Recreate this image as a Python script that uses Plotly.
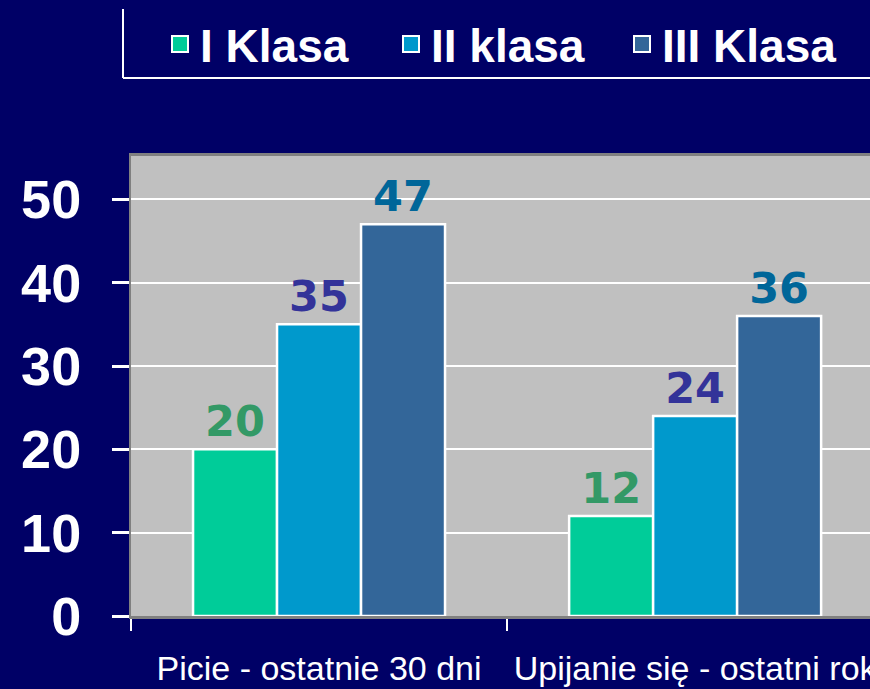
import plotly.graph_objects as go

categories = ["Picie - ostatnie 30 dni", "Upijanie się - ostatni rok"]
series_names = ["I Klasa", "II klasa", "III Klasa"]
klasa1 = [20, 12]
klasa2 = [35, 24]
klasa3 = [47, 36]
y_ticks = [0, 10, 20, 30, 40, 50]

bar_colors = ["#00CC99", "#0099CC", "#336699"]
label_colors = ["#339966", "#333399", "#006699"]

NAVY = "#000066"
fig = go.Figure()
for name, vals, col, lcol in zip(series_names, [klasa1, klasa2, klasa3], bar_colors, label_colors):
    fig.add_trace(go.Bar(
        x=categories, y=vals, name=name, showlegend=False,
        marker=dict(color=col, line=dict(color="white", width=2.5)),
        text=[str(v) for v in vals], textposition="outside", cliponaxis=False,
        textfont=dict(family="DejaVu Sans", size=43, color=lcol, weight="bold"),
        constraintext="none",
    ))
    # legend entry
    fig.add_trace(go.Scatter(
        x=[None], y=[None], mode="markers", name=name,
        marker=dict(symbol="square", size=16, color=col, line=dict(color="white", width=2)),
    ))

fig.update_layout(
    width=870, height=689,
    paper_bgcolor=NAVY, plot_bgcolor="#C0C0C0",
    margin=dict(l=131, r=0, t=156, b=73, autoexpand=False),
    barmode="group", bargap=0.33, bargroupgap=0,
    showlegend=True,
    legend=dict(
        orientation="h", xref="container", yref="container",
        x=160 / 870, xanchor="left", y=1 - 44 / 689, yanchor="middle",
        font=dict(family="Liberation Sans", size=46, color="white", weight="bold"),
        bgcolor="rgba(0,0,0,0)", itemwidth=30, entrywidth=186,
    ),
    xaxis=dict(
        type="category", range=[-0.5, 1.465], automargin=False,
        showgrid=False, tickson="boundaries", ticks="outside", ticklen=12,
        tickwidth=2, tickcolor="white", tickangle=0,
        showline=True, linecolor="#808080", linewidth=3, mirror=True,
        tickfont=dict(family="Liberation Sans", size=34, color="white"),
        ticklabelstandoff=20,
    ),
    yaxis=dict(
        range=[0, 55.2], tickvals=y_ticks, ticktext=[str(v) for v in y_ticks],
        automargin=False,
        showgrid=True, gridcolor="white", gridwidth=2,
        zeroline=False,
        ticks="outside", ticklen=17, tickwidth=3, tickcolor="white",
        showline=True, linecolor="#808080", linewidth=2,
        tickfont=dict(family="Liberation Sans", size=54, color="white", weight="bold"),
        ticklabelstandoff=20,
    ),
    shapes=[
        dict(type="line", xref="paper", yref="paper",
             x0=(123 - 131) / 739, x1=(123 - 131) / 739,
             y0=(616 - 78) / 460, y1=(616 - 9) / 460,
             line=dict(color="white", width=2)),
        dict(type="line", xref="paper", yref="paper",
             x0=(123 - 131) / 739, x1=1.0,
             y0=(616 - 78) / 460, y1=(616 - 78) / 460,
             line=dict(color="white", width=2)),
    ],
)

fig.write_html("out.html", config={"displayModeBar": False})

# remove default page margin so the figure fills the window
with open("out.html", "r", encoding="utf-8") as f:
    html = f.read()
html = html.replace("<head>", "<head><style>html,body{margin:0;padding:0;overflow:hidden;background:#000066;}</style>", 1)
with open("out.html", "w", encoding="utf-8") as f:
    f.write(html)
